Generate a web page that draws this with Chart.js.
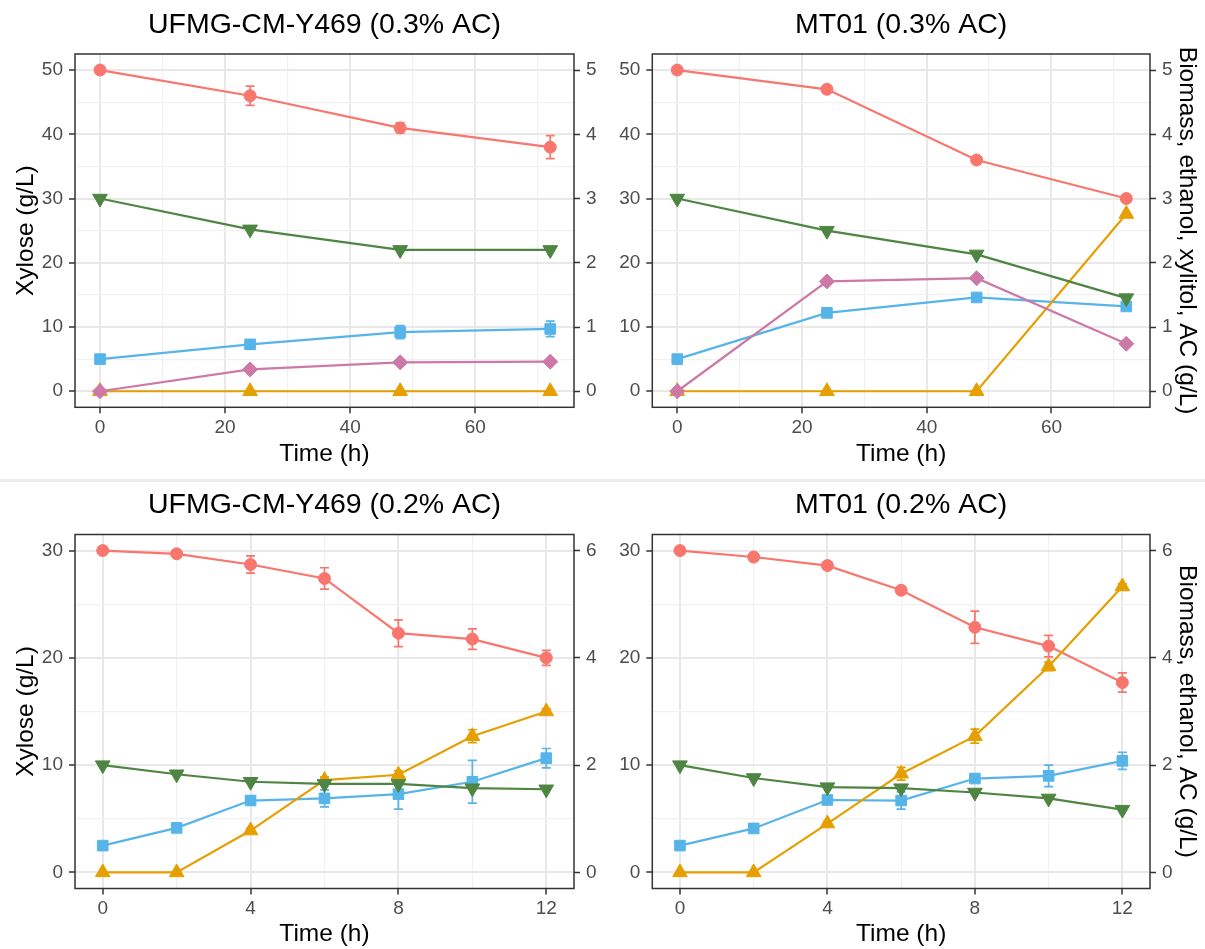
<!DOCTYPE html>
<html>
<head>
<meta charset="utf-8">
<title>Xylose fermentation with acetic acid</title>
<script src="https://cdn.jsdelivr.net/npm/chart.js@4.4.1/dist/chart.umd.min.js"></script>
<style>
  body { margin: 0; background: #fff; width: 1205px; height: 949px; position: relative; overflow: hidden; }
  canvas { position: absolute; }
  #sep { position: absolute; left: 0; top: 479px; width: 1205px; height: 3px; background: #ebebeb; }
</style>
</head>
<body>
<canvas id="y469ac3"></canvas>
<canvas id="mt01ac3"></canvas>
<div id="sep"></div>
<canvas id="y469ac2"></canvas>
<canvas id="mt01ac2"></canvas>
<script>
// sampling times (h)
const hoursLong = [0, 24, 48, 72];
const hoursShort = [0, 2, 4, 6, 8, 10, 12];

// UFMG-CM-Y469, 0.3% AC
const y469Ac3Xylose = [50, 46, 41, 38];
const y469Ac3XyloseSd = [0.3, 1.5, 0.8, 1.8];
const y469Ac3Biomass = [0.5, 0.73, 0.92, 0.97];
const y469Ac3BiomassSd = [0.03, 0.07, 0.1, 0.12];
const y469Ac3Ethanol = [0, 0, 0, 0];
const y469Ac3Xylitol = [0, 0.34, 0.45, 0.46];
const y469Ac3Acetic = [3.0, 2.52, 2.2, 2.2];

// MT01, 0.3% AC
const mt01Ac3Xylose = [50, 47, 36, 30];
const mt01Ac3XyloseSd = [0.2, 0.3, 0.3, 0.3];
const mt01Ac3Biomass = [0.5, 1.22, 1.46, 1.32];
const mt01Ac3Ethanol = [0, 0, 0, 2.76];
const mt01Ac3Xylitol = [0, 1.71, 1.76, 0.74];
const mt01Ac3Acetic = [3.0, 2.5, 2.13, 1.45];

// UFMG-CM-Y469, 0.2% AC
const y469Ac2Xylose = [30, 29.7, 28.7, 27.4, 22.3, 21.75, 20.0];
const y469Ac2XyloseSd = [0.1, 0.2, 0.8, 1.0, 1.25, 0.95, 0.7];
const y469Ac2Biomass = [0.5, 0.83, 1.34, 1.38, 1.46, 1.69, 2.13];
const y469Ac2BiomassSd = [0.02, 0.03, 0.05, 0.16, 0.28, 0.4, 0.18];
const y469Ac2Ethanol = [0, 0, 0.78, 1.72, 1.82, 2.54, 3.0];
const y469Ac2EthanolSd = [0, 0, 0.04, 0.06, 0.08, 0.12, 0.05];
const y469Ac2Acetic = [2.0, 1.83, 1.69, 1.65, 1.65, 1.57, 1.55];

// MT01, 0.2% AC
const mt01Ac2Xylose = [30, 29.4, 28.6, 26.3, 22.85, 21.1, 17.7];
const mt01Ac2XyloseSd = [0.1, 0.2, 0.3, 0.3, 1.5, 1.0, 0.9];
const mt01Ac2Biomass = [0.5, 0.82, 1.35, 1.34, 1.75, 1.8, 2.08];
const mt01Ac2BiomassSd = [0.02, 0.03, 0.05, 0.16, 0.06, 0.2, 0.16];
const mt01Ac2Ethanol = [0, 0, 0.91, 1.84, 2.54, 3.84, 5.33];
const mt01Ac2EthanolSd = [0, 0, 0.04, 0.12, 0.13, 0.08, 0.05];
const mt01Ac2Acetic = [2.0, 1.76, 1.59, 1.57, 1.49, 1.38, 1.17];

// axis breaks
const xTicksLong = [0, 20, 40, 60];
const xMinorLong = [10, 30, 50, 70];
const xTicksShort = [0, 4, 8, 12];
const xMinorShort = [2, 6, 10];
const xyloseTicksHigh = [0, 10, 20, 30, 40, 50];
const xyloseMinorHigh = [5, 15, 25, 35, 45];
const xyloseTicksLow = [0, 10, 20, 30];
const xyloseMinorLow = [5, 15, 25];
const productTicksHigh = [0, 1, 2, 3, 4, 5];
const productTicksLow = [0, 2, 4, 6];

const FONT = '"Liberation Sans", Arial, sans-serif';
const TITLE_SIZE = 28.5, AXIS_SIZE = 24.5, TICK_SIZE = 19;
const GRID_MAJOR = '#e8e8e8', GRID_MINOR = '#f1f1f1', INK = '#333333', TICK_TXT = '#4d4d4d';
const RED = '#f8766d', BLUE = '#56b4e9', YELLOW = '#e69f00', PURPLE = '#cc79a7', GREEN = '#4e8542';

function series(hours, values, color, style, radius, axis, extra) {
  return Object.assign({
    yAxisID: axis,
    data: hours.map((h, i) => ({ x: h, y: values[i] })),
    borderColor: color,
    backgroundColor: color,
    pointBackgroundColor: color,
    pointBorderColor: color,
    pointBorderWidth: 1,
    borderWidth: 2.2,
    pointStyle: style,
    pointRadius: radius,
    tension: 0
  }, extra || {});
}

// vertical error bars with caps, drawn under the lines
const errorBars = {
  id: 'errorBars',
  beforeDatasetsDraw(chart) {
    const ctx = chart.ctx;
    chart.data.datasets.forEach((ds, i) => {
      if (!ds.errors) return;
      const meta = chart.getDatasetMeta(i);
      const xs = chart.scales[meta.xAxisID], ys = chart.scales[meta.yAxisID];
      ctx.save();
      ctx.strokeStyle = ds.borderColor;
      ctx.lineWidth = 1.7;
      ds.data.forEach((p, j) => {
        const e = ds.errors[j];
        if (!e) return;
        const x = xs.getPixelForValue(p.x);
        const lo = ys.getPixelForValue(p.y - e), hi = ys.getPixelForValue(p.y + e);
        ctx.beginPath();
        ctx.moveTo(x, lo); ctx.lineTo(x, hi);
        ctx.moveTo(x - 4.5, lo); ctx.lineTo(x + 4.5, lo);
        ctx.moveTo(x - 4.5, hi); ctx.lineTo(x + 4.5, hi);
        ctx.stroke();
      });
      ctx.restore();
    });
  }
};

const panelFrame = {
  id: 'panelFrame',
  afterDraw(chart) {
    const { left, top, right, bottom } = chart.chartArea;
    const ctx = chart.ctx;
    ctx.save();
    ctx.strokeStyle = INK;
    ctx.lineWidth = 1.5;
    ctx.strokeRect(left, top, right - left, bottom - top);
    ctx.restore();
  }
};

function drawPanel(p) {
  const cv = document.getElementById(p.id);
  cv.width = p.box.w;
  cv.height = p.box.h;
  cv.style.left = p.box.x + 'px';
  cv.style.top = p.box.y + 'px';

  const titleLH = TITLE_SIZE * 1.2, axisLH = AXIS_SIZE * 1.2;
  const titleTop = p.titleY - p.box.y - titleLH / 2;
  const titleBottom = p.area.t - p.box.y - titleLH - titleTop;
  const xMajor = new Set(p.xTicks), yMajor = new Set(p.yTicks);
  const isMajor = (set, c) => c.tick && set.has(c.tick.value);
  const grid = set => ({
    color: c => isMajor(set, c) ? GRID_MAJOR : GRID_MINOR,
    lineWidth: c => isMajor(set, c) ? 2 : 1.2,
    tickColor: c => isMajor(set, c) ? INK : 'rgba(0,0,0,0)',
    tickWidth: 1.5,
    tickLength: 6
  });
  const tickFont = { family: FONT, size: TICK_SIZE };
  const axisFont = { family: FONT, size: AXIS_SIZE };

  new Chart(cv, {
    type: 'line',
    data: { datasets: p.datasets },
    options: {
      responsive: false,
      animation: false,
      devicePixelRatio: 1,
      layout: { padding: 0 },
      plugins: {
        legend: { display: false },
        tooltip: { enabled: false },
        title: {
          display: true, text: p.title, fullSize: false, color: '#000',
          font: { family: FONT, size: TITLE_SIZE, weight: 'normal' },
          padding: { top: titleTop, bottom: titleBottom }
        }
      },
      scales: {
        x: {
          type: 'linear', position: 'bottom', min: p.xMin, max: p.xMax,
          afterBuildTicks: s => { s.ticks = p.xTicks.concat(p.xMinor).sort((a, b) => a - b).map(v => ({ value: v })); },
          afterFit: s => { s.height = p.box.y + p.box.h - p.area.b; },
          ticks: { callback: v => xMajor.has(v) ? String(v) : '', color: TICK_TXT, font: tickFont, padding: 3, maxRotation: 0, autoSkip: false },
          grid: grid(xMajor),
          border: { display: false },
          title: { display: true, text: 'Time (h)', color: '#000', font: axisFont,
                   padding: { top: 0, bottom: p.box.y + p.box.h - p.xTitleY - axisLH / 2 } }
        },
        y: {
          type: 'linear', position: 'left', min: p.yMin, max: p.yMax,
          afterBuildTicks: s => { s.ticks = p.yTicks.concat(p.yMinor).sort((a, b) => a - b).map(v => ({ value: v })); },
          afterFit: s => { s.width = p.area.l - p.box.x; },
          ticks: { callback: v => yMajor.has(v) ? String(v) : '', color: TICK_TXT, font: tickFont, padding: 6, autoSkip: false },
          grid: grid(yMajor),
          border: { display: false },
          title: { display: p.leftTitle, text: 'Xylose (g/L)', color: '#000', font: axisFont,
                   padding: { top: 26 - p.box.x - axisLH / 2, bottom: 0 } }
        },
        y2: {
          type: 'linear', position: 'right', min: p.y2Min, max: p.y2Max,
          afterBuildTicks: s => { s.ticks = p.y2Ticks.map(v => ({ value: v })); },
          afterFit: s => { s.width = p.box.x + p.box.w - p.area.r; },
          ticks: { color: TICK_TXT, font: tickFont, padding: 6, autoSkip: false },
          grid: { drawOnChartArea: false, tickColor: INK, tickWidth: 1.5, tickLength: 6 },
          border: { display: false },
          title: { display: !!p.rightTitle, text: p.rightTitle || '', color: '#000', font: axisFont,
                   padding: { top: p.box.x + p.box.w - 1187 - axisLH / 2, bottom: 0 } }
        }
      }
    },
    plugins: [errorBars, panelFrame]
  });
}

const topRow = {
  xTicks: xTicksLong, xMinor: xMinorLong, xMin: -4, xMax: 75.8,
  yTicks: xyloseTicksHigh, yMinor: xyloseMinorHigh, yMin: -2.5, yMax: 52.5,
  y2Ticks: productTicksHigh, y2Min: -0.25, y2Max: 5.25,
  titleY: 25, xTitleY: 454
};
const bottomRow = {
  xTicks: xTicksShort, xMinor: xMinorShort, xMin: -0.75, xMax: 12.75,
  yTicks: xyloseTicksLow, yMinor: xyloseMinorLow, yMin: -1.5, yMax: 31.5,
  y2Ticks: productTicksLow, y2Min: -0.3, y2Max: 6.3,
  titleY: 505, xTitleY: 934
};

drawPanel(Object.assign({}, topRow, {
  id: 'y469ac3', title: 'UFMG-CM-Y469 (0.3% AC)', leftTitle: true,
  box: { x: 0, y: 0, w: 602, h: 478 }, area: { l: 75, r: 574, t: 54, b: 407.3 },
  datasets: [
    series(hoursLong, y469Ac3Acetic, GREEN, 'triangle', 8.5, 'y2', { pointRotation: 180 }),
    series(hoursLong, y469Ac3Xylitol, PURPLE, 'rectRot', 7.5, 'y2'),
    series(hoursLong, y469Ac3Ethanol, YELLOW, 'triangle', 8.5, 'y2'),
    series(hoursLong, y469Ac3Biomass, BLUE, 'rect', 7.5, 'y2', { errors: y469Ac3BiomassSd }),
    series(hoursLong, y469Ac3Xylose, RED, 'circle', 6, 'y', { errors: y469Ac3XyloseSd })
  ]
}));

drawPanel(Object.assign({}, topRow, {
  id: 'mt01ac3', title: 'MT01 (0.3% AC)', leftTitle: false,
  rightTitle: 'Biomass, ethanol, xylitol, AC (g/L)',
  box: { x: 602, y: 0, w: 603, h: 478 }, area: { l: 652.3, r: 1150, t: 54, b: 407.3 },
  datasets: [
    series(hoursLong, mt01Ac3Acetic, GREEN, 'triangle', 8.5, 'y2', { pointRotation: 180 }),
    series(hoursLong, mt01Ac3Xylitol, PURPLE, 'rectRot', 7.5, 'y2'),
    series(hoursLong, mt01Ac3Ethanol, YELLOW, 'triangle', 8.5, 'y2'),
    series(hoursLong, mt01Ac3Biomass, BLUE, 'rect', 7.5, 'y2'),
    series(hoursLong, mt01Ac3Xylose, RED, 'circle', 6, 'y', { errors: mt01Ac3XyloseSd })
  ]
}));

drawPanel(Object.assign({}, bottomRow, {
  id: 'y469ac2', title: 'UFMG-CM-Y469 (0.2% AC)', leftTitle: true,
  box: { x: 0, y: 482, w: 602, h: 467 }, area: { l: 75, r: 574, t: 534.5, b: 888.5 },
  datasets: [
    series(hoursShort, y469Ac2Acetic, GREEN, 'triangle', 8.5, 'y2', { pointRotation: 180 }),
    series(hoursShort, y469Ac2Ethanol, YELLOW, 'triangle', 8.5, 'y2', { errors: y469Ac2EthanolSd }),
    series(hoursShort, y469Ac2Biomass, BLUE, 'rect', 7.5, 'y2', { errors: y469Ac2BiomassSd }),
    series(hoursShort, y469Ac2Xylose, RED, 'circle', 6, 'y', { errors: y469Ac2XyloseSd })
  ]
}));

drawPanel(Object.assign({}, bottomRow, {
  id: 'mt01ac2', title: 'MT01 (0.2% AC)', leftTitle: false,
  rightTitle: 'Biomass, ethanol, AC (g/L)',
  box: { x: 602, y: 482, w: 603, h: 467 }, area: { l: 652.3, r: 1150, t: 534.5, b: 888.5 },
  datasets: [
    series(hoursShort, mt01Ac2Acetic, GREEN, 'triangle', 8.5, 'y2', { pointRotation: 180 }),
    series(hoursShort, mt01Ac2Ethanol, YELLOW, 'triangle', 8.5, 'y2', { errors: mt01Ac2EthanolSd }),
    series(hoursShort, mt01Ac2Biomass, BLUE, 'rect', 7.5, 'y2', { errors: mt01Ac2BiomassSd }),
    series(hoursShort, mt01Ac2Xylose, RED, 'circle', 6, 'y', { errors: mt01Ac2XyloseSd })
  ]
}));
</script>
</body>
</html>
